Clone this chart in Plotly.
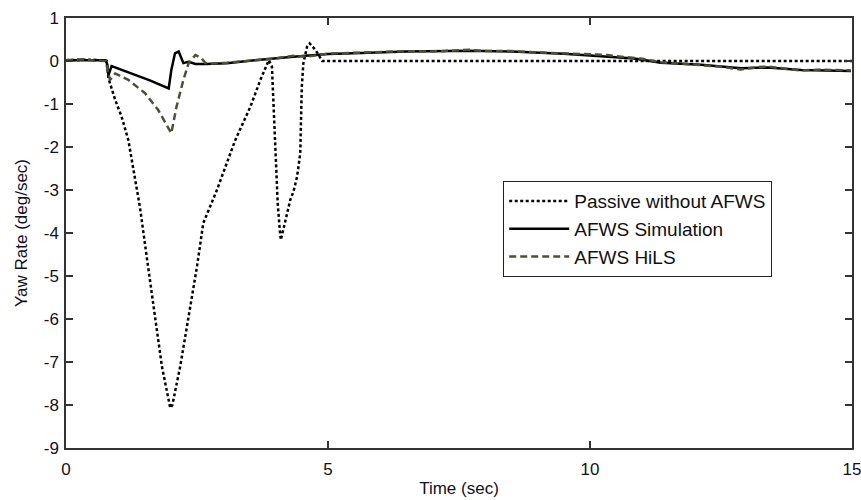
import plotly.graph_objects as go

# Passive without AFWS (dotted)
t_passive = [0.0, 0.5, 0.78, 0.81, 0.94, 1.06, 1.19, 1.41, 1.54, 1.70, 1.83, 1.99, 2.03,
             2.18, 2.34, 2.50, 2.62, 2.88, 3.23, 3.52, 3.71, 3.84, 3.87, 3.93, 3.96, 4.00,
             4.04, 4.08, 4.10, 4.19, 4.28, 4.34, 4.41, 4.47, 4.48, 4.50, 4.53, 4.60, 4.65,
             4.76, 4.89, 6.0, 10.0, 15.0]
y_passive = [0.02, 0.03, 0.0, -0.40, -0.91, -1.29, -1.84, -3.39, -4.55, -5.95, -7.10, -8.07, -8.0,
             -7.10, -5.95, -4.78, -3.77, -3.00, -1.84, -1.06, -0.44, -0.05, 0.02, -0.13, -0.98, -2.15,
             -3.31, -3.93, -4.16, -3.70, -3.23, -3.04, -2.69, -2.15, -1.37, -0.60, -0.05, 0.33, 0.41,
             0.26, 0.0, 0.0, 0.0, 0.0]

# AFWS Simulation (solid)
t_sim = [0.0, 0.3, 0.55, 0.75, 0.78, 0.81, 0.87, 1.2, 1.6, 1.96, 2.01, 2.08, 2.15, 2.24,
         2.34, 2.47, 2.66, 3.07, 3.6, 4.34, 5.0, 5.49, 6.5, 7.7, 8.5, 9.5, 10.2, 10.84,
         11.35, 12.12, 12.88, 13.39, 14.03, 14.98]
y_sim = [0.02, 0.02, 0.02, 0.02, -0.05, -0.33, -0.12, -0.27, -0.45, -0.64, -0.21, 0.18, 0.22, -0.05,
         -0.02, -0.07, -0.07, -0.05, 0.02, 0.10, 0.16, 0.18, 0.22, 0.24, 0.22, 0.17, 0.12, 0.06,
         -0.04, -0.09, -0.17, -0.15, -0.21, -0.23]

# AFWS HiLS (dashed)
t_hils = [0.0, 0.3, 0.5, 0.76, 0.80, 0.84, 0.94, 1.19, 1.51, 1.76, 2.01, 2.11, 2.24, 2.34,
          2.47, 2.59, 2.66, 2.8, 3.07, 3.5, 4.0, 4.34, 4.6, 5.0, 5.49, 6.0, 6.5, 7.0, 7.7,
          8.0, 8.5, 9.0, 9.5, 10.0, 10.33, 10.6, 11.0, 11.35, 11.8, 12.12, 12.5, 12.88,
          13.2, 13.39, 13.7, 14.03, 14.4, 14.98]
y_hils = [0.02, 0.04, 0.01, 0.0, -0.25, -0.44, -0.29, -0.44, -0.75, -1.14, -1.68, -1.06, -0.44, -0.05,
          0.14, 0.06, -0.05, -0.06, -0.04, 0.0, 0.06, 0.12, 0.10, 0.17, 0.19, 0.20, 0.23, 0.22, 0.26,
          0.23, 0.23, 0.20, 0.18, 0.15, 0.14, 0.10, 0.05, -0.03, -0.07, -0.10, -0.13, -0.20,
          -0.14, -0.13, -0.18, -0.22, -0.20, -0.22]

x_ticks = [0, 5, 10, 15]
y_ticks = [-9, -8, -7, -6, -5, -4, -3, -2, -1, 0, 1]

FONT = "Liberation Sans, Arial, sans-serif"

fig = go.Figure()
fig.add_trace(go.Scatter(x=t_passive, y=y_passive, mode="lines", name="Passive without AFWS",
                         line=dict(color="#000000", width=2.5, dash="3px,2.5px")))
fig.add_trace(go.Scatter(x=t_sim, y=y_sim, mode="lines", name="AFWS Simulation",
                         line=dict(color="#000000", width=2.5)))
fig.add_trace(go.Scatter(x=t_hils, y=y_hils, mode="lines", name="AFWS HiLS",
                         line=dict(color="#4f4f36", width=2.5, dash="7px,4px")))

axis_common = dict(showline=True, linecolor="#333333", linewidth=1.5, mirror="ticks",
                   ticks="inside", ticklen=7, tickwidth=1.5, tickcolor="#333333",
                   showgrid=False, zeroline=False, automargin=False,
                   ticklabeloverflow="allow",
                   tickfont=dict(family=FONT, size=17, color="#111122"))

fig.update_xaxes(range=[0, 15], tickvals=x_ticks, ticktext=[str(v) for v in x_ticks],
                 title=dict(text="Time (sec)", font=dict(family=FONT, size=17, color="#111122"),
                            standoff=4),
                 ticklabelstandoff=5, **axis_common)
fig.update_yaxes(range=[-9, 1], tickvals=y_ticks, ticktext=[str(v) for v in y_ticks],
                 title=dict(text="Yaw Rate (deg/sec)", font=dict(family=FONT, size=17, color="#111122"),
                            standoff=12),
                 ticklabelstandoff=2, **axis_common)

fig.update_layout(
    width=861, height=500,
    margin=dict(l=66, r=9, t=18, b=52),
    paper_bgcolor="white", plot_bgcolor="white",
    showlegend=True,
    legend=dict(x=0.556, y=0.621, xanchor="left", yanchor="top",
                bgcolor="white", bordercolor="#222222", borderwidth=1.2,
                font=dict(family=FONT, size=19, color="#111111"),
                itemwidth=60, tracegroupgap=0),
)

fig.write_html("out.html", config={"displayModeBar": False},
               post_script="document.body.style.margin='0';")
